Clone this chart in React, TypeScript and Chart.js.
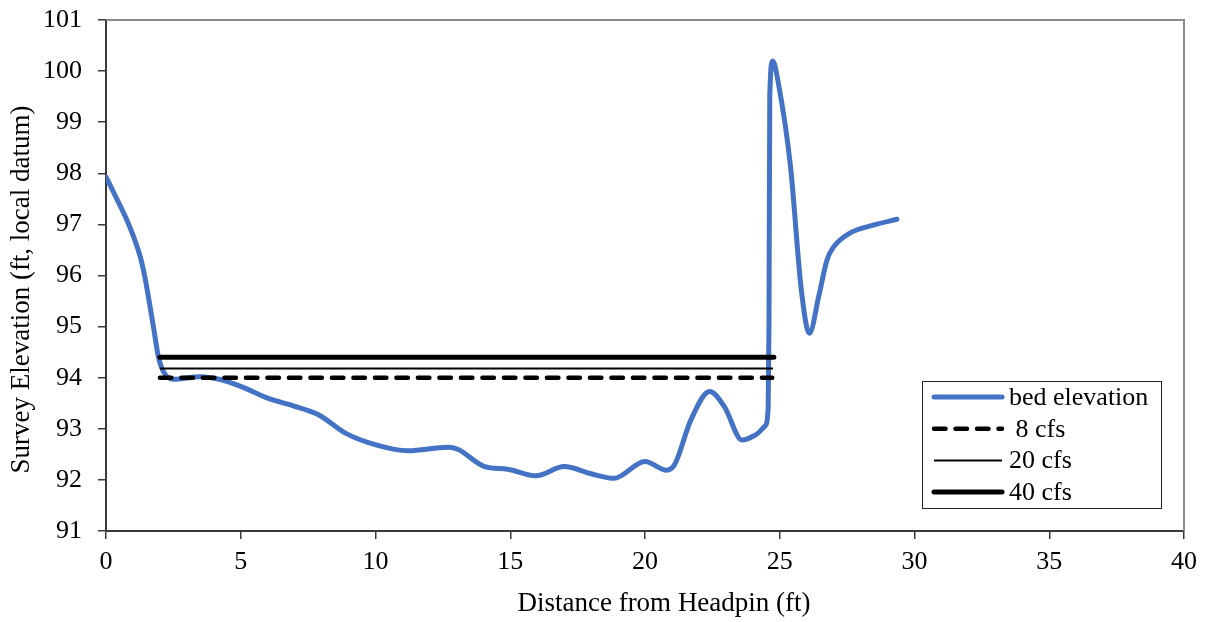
import React, { useEffect, useRef } from "react";
import { Chart, registerables } from "chart.js";

Chart.register(...registerables);

// ---- Data ----
const bedDistance = [
  0, 0.4, 0.77, 1.05, 1.28, 1.45, 1.6, 1.76, 1.94, 2.13, 2.5, 3.5, 4.2, 5.0, 6.0,
  6.95, 7.9, 8.9, 10.05, 11.2, 12.7, 13.05, 14.05, 14.9, 15.95, 17.0, 18.0,
  18.85, 20.0, 20.8, 21.1, 21.7, 22.4, 22.95, 23.6, 24.1, 24.45, 24.57, 24.6,
  24.63, 24.74, 24.95, 25.4, 25.8, 26.1, 26.45, 26.75, 27.0, 27.6, 28.5, 29.35,
];
const bedElevation = [
  97.93, 97.5, 97.09, 96.72, 96.35, 95.95, 95.5, 95.0, 94.42, 94.12, 93.97,
  94.02, 93.97, 93.83, 93.6, 93.45, 93.27, 92.91, 92.68, 92.57, 92.64, 92.6,
  92.26, 92.21, 92.08, 92.26, 92.12, 92.03, 92.36, 92.19, 92.3, 93.17, 93.73,
  93.43, 92.78, 92.88, 93.05, 93.4, 95.0, 99.5, 100.2, 99.76, 98.13, 95.72,
  94.87, 95.6, 96.3, 96.56, 96.83, 96.99, 97.1,
];
const flowLabels = [" 8 cfs", "20 cfs", "40 cfs"];
const flowElevations = [94.0, 94.18, 94.4];
const flowStart = [2.0, 2.0, 2.0];
const flowEnd = [24.72, 24.75, 24.78];
const xTickValues = [0, 5, 10, 15, 20, 25, 30, 35, 40];
const yTickValues = [91, 92, 93, 94, 95, 96, 97, 98, 99, 100, 101];
const xTitle = "Distance from Headpin (ft)";
const yTitle = "Survey Elevation (ft, local datum)";

const FONT = '"Liberation Serif", "Times New Roman", serif';
const AXIS_COLOR = "#3a3a3a";

const framePlugin = {
  id: "frameAndTitles",
  beforeDatasetsDraw(chart: any) {
    const { ctx, chartArea } = chart;
    ctx.save();
    ctx.strokeStyle = "#8a8a8a";
    ctx.lineWidth = 2;
    ctx.beginPath();
    ctx.moveTo(chartArea.left, chartArea.top);
    ctx.lineTo(chartArea.right, chartArea.top);
    ctx.lineTo(chartArea.right, chartArea.bottom);
    ctx.stroke();
    ctx.restore();
  },
  afterDraw(chart: any) {
    const { ctx, chartArea } = chart;
    ctx.save();
    ctx.fillStyle = "#000";
    ctx.font = `27px ${FONT}`;
    ctx.textAlign = "center";
    ctx.textBaseline = "middle";
    ctx.fillText(xTitle, (chartArea.left + chartArea.right) / 2 + 19, chartArea.bottom + 73);
    ctx.translate(22, (chartArea.top + chartArea.bottom) / 2 + 14);
    ctx.rotate(-Math.PI / 2);
    ctx.fillText(yTitle, 0, 0);
    ctx.restore();

    // Legend box
    const datasets = chart.data.datasets;
    const boxW = 239;
    const boxH = 127;
    const bx = chartArea.right - 23 - boxW;
    const by = chartArea.bottom - 23 - boxH;
    ctx.save();
    ctx.fillStyle = "#fff";
    ctx.fillRect(bx, by, boxW, boxH);
    ctx.strokeStyle = "#222";
    ctx.lineWidth = 1;
    ctx.strokeRect(bx + 0.5, by + 0.5, boxW, boxH);
    ctx.font = `26px ${FONT}`;
    ctx.textAlign = "left";
    ctx.textBaseline = "middle";
    datasets.forEach((ds: any, i: number) => {
      const cy = by + 16 + i * 31.7;
      ctx.save();
      ctx.strokeStyle = ds.borderColor;
      ctx.lineWidth = ds.borderWidth;
      ctx.lineCap = ds.borderCapStyle || "butt";
      ctx.setLineDash(ds.borderDash || []);
      ctx.beginPath();
      ctx.moveTo(bx + 12, cy);
      ctx.lineTo(bx + 80, cy);
      ctx.stroke();
      ctx.restore();
      ctx.fillStyle = "#000";
      ctx.fillText(ds.label, bx + 87, cy + 1);
    });
    ctx.restore();
  },
};

export default function App() {
  const canvasRef = useRef<HTMLCanvasElement | null>(null);

  useEffect(() => {
    if (!canvasRef.current) return;
    const bed = bedDistance.map((x, i) => ({ x, y: bedElevation[i] }));
    const flowStyles = [
      { borderWidth: 4.5, borderDash: [11.5, 10], borderCapStyle: "round" },
      { borderWidth: 2, borderDash: [], borderCapStyle: "butt" },
      { borderWidth: 5, borderDash: [], borderCapStyle: "round" },
    ];
    const flowSets = flowLabels.map((label, i) => ({
      label,
      data: [
        { x: flowStart[i], y: flowElevations[i] },
        { x: flowEnd[i], y: flowElevations[i] },
      ],
      borderColor: "#000",
      backgroundColor: "#000",
      pointRadius: 0,
      fill: false,
      order: 0,
      ...flowStyles[i],
    }));

    const chart = new Chart(canvasRef.current, {
      type: "line",
      data: {
        datasets: [
          {
            label: "bed elevation",
            data: bed,
            borderColor: "#4472C4",
            backgroundColor: "#4472C4",
            borderWidth: 5,
            borderCapStyle: "round",
            borderJoinStyle: "round",
            pointRadius: 0,
            cubicInterpolationMode: "monotone",
            fill: false,
            order: 1,
          } as any,
          ...(flowSets as any[]),
        ],
      },
      options: {
        animation: false,
        responsive: false,
        layout: { padding: { top: 20, right: 23, left: 0, bottom: 0 } },
        plugins: { legend: { display: false }, tooltip: { enabled: false } },
        scales: {
          x: {
            type: "linear",
            min: 0,
            max: 40,
            afterBuildTicks: (scale: any) => {
              scale.ticks = xTickValues.map((v) => ({ value: v }));
            },
            afterFit: (scale: any) => {
              scale.height = 91;
              scale.paddingLeft = 0;
              scale.paddingRight = 0;
            },
            ticks: {
              color: "#000",
              font: { family: FONT, size: 26 },
              padding: 8,
              maxRotation: 0,
            },
            grid: {
              display: true,
              drawOnChartArea: false,
              drawTicks: true,
              tickLength: 8,
              color: AXIS_COLOR,
              lineWidth: 1.5,
            },
            border: { display: true, color: AXIS_COLOR, width: 2 },
          },
          y: {
            type: "linear",
            min: 91,
            max: 101,
            afterBuildTicks: (scale: any) => {
              scale.ticks = yTickValues.map((v) => ({ value: v }));
            },
            afterFit: (scale: any) => {
              scale.width = 106;
              scale.paddingTop = 0;
              scale.paddingBottom = 0;
            },
            ticks: {
              color: "#000",
              font: { family: FONT, size: 26 },
              padding: 16,
            },
            grid: {
              display: true,
              drawOnChartArea: false,
              drawTicks: true,
              tickLength: 8,
              color: AXIS_COLOR,
              lineWidth: 1.5,
            },
            border: { display: true, color: AXIS_COLOR, width: 2 },
          },
        },
      } as any,
      plugins: [framePlugin],
    });
    return () => chart.destroy();
  }, []);

  return (
    <div style={{ position: "absolute", left: 0, top: 0, width: 1207, height: 622, background: "#fff" }}>
      <canvas ref={canvasRef} width={1207} height={622} style={{ width: 1207, height: 622, display: "block" }} />
    </div>
  );
}
